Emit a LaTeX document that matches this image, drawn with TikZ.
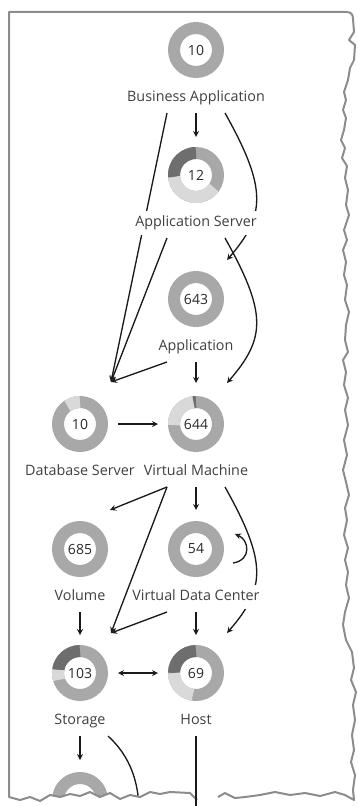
\documentclass[tikz,border=0pt]{standalone}
\usepackage{fontspec}
\setmainfont{Open Sans}
\usepackage{tikz}
\usetikzlibrary{arrows, positioning, calc, backgrounds}
\definecolor{ringmid}{HTML}{A8A8A8}
\definecolor{ringdark}{HTML}{6E6E6E}
\definecolor{ringlight}{HTML}{D9D9D9}
\definecolor{labtext}{HTML}{404040}
\definecolor{numtext}{HTML}{2A2A2A}
\definecolor{edgecol}{HTML}{1A1A1A}
\definecolor{framecol}{HTML}{8C8C8C}
\tikzstyle{donut} = [circle, draw=ringmid, line width=9pt, minimum size=33pt, inner sep=0pt, text=numtext, font=\fontsize{10.5}{12}\selectfont]
\tikzstyle{seg} = [line width=9pt]
\tikzstyle{lab} = [rectangle, fill=white, inner sep=0pt, outer sep=2.25pt, minimum height=18pt, text height=8pt, text depth=2.5pt, text=labtext, font=\fontsize{10.75}{13}\selectfont]
\tikzstyle{arrow} = [line width=1pt, draw=edgecol, ->, >=stealth]
\tikzstyle{twoway} = [line width=1pt, draw=edgecol, <->, >=stealth]
\tikzstyle{frame} = [line width=1.5pt, draw=framecol, line join=round]
\begin{document}
\begin{tikzpicture}[x=0.75pt, y=0.75pt]
  \useasboundingbox (0,0) rectangle (357,-806);
  % supply chain entities
  \node (ba) [donut] at (196,-50) {10};
  \node (balab) [lab, below=3.75pt of ba] {Business Application};
  \node (as) [donut] at (196,-175) {12};
  \node (aslab) [lab, below=3.75pt of as] {Application Server};
  \node (app) [donut] at (196,-299) {643};
  \node (applab) [lab, below=3.75pt of app] {Application};
  \node (db) [donut] at (80,-424) {10};
  \node (dblab) [lab, below=3.75pt of db] {Database Server};
  \node (vm) [donut] at (196,-424) {644};
  \node (vmlab) [lab, below=3.75pt of vm] {Virtual Machine};
  \node (vol) [donut] at (80,-549) {685};
  \node (vollab) [lab, below=3.75pt of vol] {Volume};
  \node (vdc) [donut] at (196,-549) {54};
  \node (vdclab) [lab, below=3.75pt of vdc] {Virtual Data Center};
  \node (sto) [donut] at (80,-673) {103};
  \node (stolab) [lab, below=3.75pt of sto] {Storage};
  \node (host) [donut] at (196,-673) {69};
  \node (hostlab) [lab, below=3.75pt of host] {Host};
  \node (bot) [donut] at (80,-800) {};
  % ring segments
  \draw [seg, ringdark] (as.center) ++(90:16.5pt) arc[start angle=90, end angle=185, radius=16.5pt];
  \draw [seg, ringlight] (as.center) ++(185:16.5pt) arc[start angle=185, end angle=325, radius=16.5pt];
  \draw [seg, ringlight] (db.center) ++(90:16.5pt) arc[start angle=90, end angle=125, radius=16.5pt];
  \draw [seg, ringdark] (vm.center) ++(90:16.5pt) arc[start angle=90, end angle=97, radius=16.5pt];
  \draw [seg, ringlight] (vm.center) ++(97:16.5pt) arc[start angle=97, end angle=183, radius=16.5pt];
  \draw [seg, ringdark] (sto.center) ++(90:16.5pt) arc[start angle=90, end angle=172, radius=16.5pt];
  \draw [seg, ringlight] (sto.center) ++(172:16.5pt) arc[start angle=172, end angle=198, radius=16.5pt];
  \draw [seg, ringdark] (host.center) ++(90:16.5pt) arc[start angle=90, end angle=180, radius=16.5pt];
  \draw [seg, ringlight] (host.center) ++(180:16.5pt) arc[start angle=180, end angle=262, radius=16.5pt];
  \coordinate (dbin) at ($(db.north)+(31,14)$);
  \coordinate (stoin) at ($(sto.north)+(31,12)$);
  \coordinate (stoout) at (139,-812);
  \coordinate (hostout) at (196,-810);
  % connectors
  \begin{scope}[on background layer]
    \draw [arrow] (balab.south) -- ($(as.north)+(0,10)$);
    \draw [arrow] ($(balab.south)+(-29,0)$) -- (dbin);
    \draw [arrow] ($(aslab.south)+(-29,0)$) -- (dbin);
    \draw [arrow] ($(applab.south)+(-29,0)$) -- (dbin);
    \draw [arrow] ($(balab.south)+(29,0)$) .. controls +(42,-75) and +(39,45) .. ($(app.north)+(31,11)$);
    \draw [arrow] ($(aslab.south)+(29,0)$) .. controls +(42,-75) and +(39,45) .. ($(vm.north)+(31,13)$);
    \draw [arrow] (applab.south) -- ($(vm.north)+(0,13)$);
    \draw [arrow] ($(db.east)+(10,0)$) -- ($(vm.west)+(-10,0)$);
    \draw [arrow] ($(vmlab.south)+(-29,0)$) -- ($(vol.north)+(30,11)$);
    \draw [arrow] ($(vmlab.south)+(-29,0)$) -- (stoin);
    \draw [arrow] (vmlab.south) -- ($(vdc.north)+(0,11)$);
    \draw [arrow] ($(vmlab.south)+(29,0)$) .. controls +(42,-75) and +(39,45) .. ($(host.north)+(31,12)$);
    \draw [arrow] ($(vdc.center)+(37,-14)$) .. controls +(19,3) and +(14,-6) .. ($(vdc.center)+(39,15)$);
    \draw [arrow] ($(vdclab.south)+(-29,0)$) -- (stoin);
    \draw [arrow] (vollab.south) -- ($(sto.north)+(0,10)$);
    \draw [arrow] (vdclab.south) -- ($(host.north)+(0,10)$);
    \draw [twoway] ($(sto.east)+(10,0)$) -- ($(host.west)+(-10,0)$);
    \draw [arrow] (stolab.south) -- ($(bot.north)+(0,12)$);
    \draw [line width=1pt, draw=edgecol] ($(stolab.south)+(28,0)$) .. controls +(22,-20) and +(0,30) .. (stoout);
  \end{scope}
  % torn screenshot edge
  \fill [white] (0,-797) -- (9,-797) -- (20,-800) -- (30,-797) -- (40,-801) -- (50,-795) -- (60,-797) -- (70,-794) -- (80,-796) -- (90,-792) -- (100,-797) -- (110,-793) -- (120,-799) -- (130,-795) -- (140,-797) -- (150,-792) -- (160,-794) -- (170,-792) -- (190,-793) -- (197,-800) -- (218,-797) -- (225,-793) -- (235,-798) -- (245,-797) -- (260,-795) -- (275,-792) -- (290,-795) -- (305,-793) -- (320,-796) -- (335,-792) -- (345,-795) -- (354,-800) -- (357,-800) -- (357,-810) -- (0,-810) -- cycle;
  \draw [frame] (197,-800) -- (190,-793) -- (170,-792) -- (160,-794) -- (150,-792) -- (140,-797) -- (130,-795) -- (120,-799) -- (110,-793) -- (100,-797) -- (90,-792) -- (80,-796) -- (70,-794) -- (60,-797) -- (50,-795) -- (40,-801) -- (30,-797) -- (20,-800) -- (9,-797)
    -- (9,-12) -- (346,-12) .. controls (351,-12) and (353,-14) .. (353,-19)
    -- (354,-32) -- (349,-40) -- (355,-45) -- (354,-60) -- (350,-68) -- (348,-80) -- (344,-92) -- (346,-100) -- (343,-110) -- (346,-118) -- (344,-130) -- (341,-140) -- (345,-148) -- (342,-158) -- (347,-166) -- (345,-178) -- (348,-190) -- (346,-205) -- (349,-215) -- (344,-230) -- (347,-240) -- (343,-250) -- (346,-262) -- (344,-275) -- (347,-285) -- (345,-300) -- (349,-312) -- (346,-325) -- (345,-340) -- (348,-352) -- (343,-360) -- (346,-372) -- (344,-385) -- (348,-398) -- (345,-410) -- (348,-425) -- (344,-440) -- (347,-455) -- (343,-470) -- (346,-482) -- (349,-495) -- (345,-508) -- (347,-520) -- (344,-535) -- (348,-548) -- (345,-560) -- (348,-572) -- (346,-585) -- (349,-598) -- (345,-612) -- (343,-625) -- (346,-640) -- (352,-652) -- (354,-668) -- (351,-680) -- (356,-692) -- (353,-705) -- (355,-720) -- (352,-735) -- (354,-750) -- (351,-762) -- (355,-775) -- (353,-790) -- (354,-800)
    -- (345,-795) -- (335,-792) -- (320,-796) -- (305,-793) -- (290,-795) -- (275,-792) -- (260,-795) -- (245,-797) -- (235,-798) -- (225,-793) -- (218,-797);
  \draw [line width=1pt, draw=edgecol] (hostlab.south) -- (hostout);
\end{tikzpicture}
\end{document}
